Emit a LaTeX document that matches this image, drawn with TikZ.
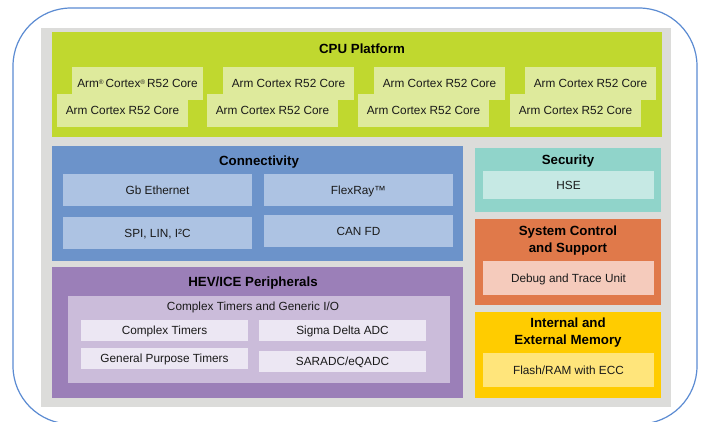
\documentclass[tikz,border=0pt]{standalone}
\usepackage{fontspec}
\setmainfont{Liberation Sans}
\definecolor{framec}{HTML}{5B8BD2}
\definecolor{greyc}{HTML}{DCDCDA}
\definecolor{cpuc}{HTML}{C0D82F}
\definecolor{corec}{HTML}{DEEA9C}
\definecolor{conc}{HTML}{6C93CA}
\definecolor{consub}{HTML}{ADC3E3}
\definecolor{hevc}{HTML}{9B7FB8}
\definecolor{hevin}{HTML}{CBBCDA}
\definecolor{hevsub}{HTML}{ECE7F3}
\definecolor{secc}{HTML}{90D4CA}
\definecolor{secsub}{HTML}{C6E9E4}
\definecolor{sysc}{HTML}{E0794A}
\definecolor{syssub}{HTML}{F5CBBC}
\definecolor{memc}{HTML}{FFCC00}
\definecolor{memsub}{HTML}{FFE57B}
\definecolor{txt}{HTML}{1A1A1A}
\newcommand{\regmk}{\raisebox{3pt}{\fontsize{6.5}{7}\selectfont ®}}
\begin{document}
\begin{tikzpicture}[x=1pt,y=-1pt,
  box/.style={inner sep=0pt, outer sep=0pt, anchor=north west, draw=none},
  sub/.style={box, font=\fontsize{11.8}{14}\selectfont, text=txt, text height=8.5pt, text depth=0pt},
  ttl/.style={inner sep=0pt, anchor=base, font=\fontsize{13.3}{16}\selectfont\bfseries, text=black},
  lbl/.style={inner sep=0pt, anchor=base, font=\fontsize{11.8}{14}\selectfont, text=txt}]
\useasboundingbox (0,0) rectangle (704,421);
% outer frame
\draw[framec, line width=1.2pt, rounded corners=58pt] (13,8) rectangle (697,424);
% grey background
\node[box, fill=greyc, minimum width=630pt, minimum height=379pt] (bg) at (41,28) {};
% CPU platform
\node[box, fill=cpuc, minimum width=610pt, minimum height=105pt] (cpu) at (52,32) {};
\node[ttl] (cput) at (362,53) {CPU Platform};
\foreach \x [count=\i] in {72,223,374,525}{
  \node[box, fill=corec, minimum width=131pt, minimum height=33pt] (back\i) at (\x,67) {};
}
\node[lbl] (back1t) at (137.5,87) {Arm\regmk\,Cortex\regmk\,R52 Core};
\node[lbl] (back2t) at (288.5,87) {Arm Cortex R52 Core};
\node[lbl] (back3t) at (439.5,87) {Arm Cortex R52 Core};
\node[lbl] (back4t) at (590.5,87) {Arm Cortex R52 Core};
\foreach \x [count=\i] in {57,207,358,510}{
  \node[sub, fill=corec, minimum width=131pt, minimum height=33pt] (front\i) at (\x,94) {Arm Cortex R52 Core};
}
% Connectivity
\node[box, fill=conc, minimum width=411pt, minimum height=115pt] (con) at (52,146) {};
\node[ttl] (cont) at (259,165) {Connectivity};
\node[sub, fill=consub, minimum width=189pt, minimum height=32pt] (gbe) at (63,174) {Gb Ethernet};
\node[sub, fill=consub, minimum width=189pt, minimum height=32pt] (flex) at (264,174) {FlexRay™};
\node[sub, fill=consub, minimum width=189pt, minimum height=32pt] (spi) at (63,217) {SPI, LIN, I²C};
\node[sub, fill=consub, minimum width=189pt, minimum height=32pt] (can) at (264,215) {CAN FD};
% HEV/ICE
\node[box, fill=hevc, minimum width=411pt, minimum height=131pt] (hev) at (52,267) {};
\node[ttl] (hevt) at (253,286) {HEV/ICE Peripherals};
\node[box, fill=hevin, minimum width=382pt, minimum height=87pt] (hevi) at (68,296) {};
\node[lbl] (hevit) at (253,310) {Complex Timers and Generic I/O};
\node[sub, fill=hevsub, minimum width=167pt, minimum height=21pt] (ct) at (81,320) {Complex Timers};
\node[sub, fill=hevsub, minimum width=167pt, minimum height=21pt] (sd) at (259,320) {Sigma Delta ADC};
\node[sub, fill=hevsub, minimum width=167pt, minimum height=21pt] (gpt) at (81,348) {General Purpose Timers};
\node[sub, fill=hevsub, minimum width=167pt, minimum height=21pt] (sar) at (259,351) {SARADC/eQADC};
% Security
\node[box, fill=secc, minimum width=186pt, minimum height=64pt] (sec) at (475,148) {};
\node[ttl] (sect) at (568,164) {Security};
\node[sub, fill=secsub, minimum width=171pt, minimum height=28pt] (hse) at (483,171) {HSE};
% System control
\node[box, fill=sysc, minimum width=186pt, minimum height=86pt] (sys) at (475,219) {};
\node[ttl] (syst1) at (568,235) {System Control};
\node[ttl] (syst2) at (568,252) {and Support};
\node[sub, fill=syssub, minimum width=171pt, minimum height=34pt] (dbg) at (483,261) {Debug and Trace Unit};
% Memory
\node[box, fill=memc, minimum width=186pt, minimum height=86pt] (mem) at (475,312) {};
\node[ttl] (memt1) at (568,327.7) {Internal and};
\node[ttl] (memt2) at (568,344) {External Memory};
\node[sub, fill=memsub, minimum width=171pt, minimum height=34pt] (flash) at (483,353) {Flash/RAM with ECC};
\end{tikzpicture}
\end{document}
